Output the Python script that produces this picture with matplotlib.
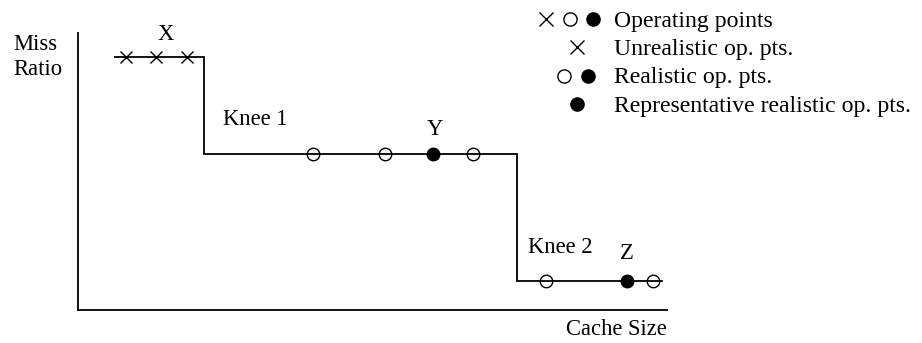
import matplotlib
matplotlib.use("Agg")
import matplotlib.pyplot as plt

# ---- data (arbitrary units: cache size, miss ratio) ----
curve_x = [37, 126, 126, 439, 439, 584]
curve_y = [253, 253, 156, 156, 29, 29]

unreal_x = [48, 78, 109]
unreal_y = [253, 253, 253]

real_open_x = [235, 307, 395, 468, 575]
real_open_y = [156, 156, 156, 29, 29]

repr_x = [355, 549]
repr_y = [156, 29]

point_labels = ["X", "Y", "Z"]
point_label_x = [88, 357, 549]
point_label_y = [270, 175, 51]

knee_labels = ["Knee 1", "Knee 2"]
knee_label_x = [145, 450]
knee_label_y = [185, 57]

legend_texts = ["Operating points", "Unrealistic op. pts.",
                "Realistic op. pts.", "Representative realistic op. pts."]

W, H = 922, 343
fig = plt.figure(figsize=(W / 100, H / 100), dpi=100)
FONT = "Liberation Serif"
FS = 16.3
LFS = 17.1

# main axes: spines at x=78px, y=310px; extent to 667px / 33px
ax = fig.add_axes([78 / W, (H - 310) / H, (667 - 78) / W, (310 - 33) / H])
ax.set_xlim(0, 589)
ax.set_ylim(0, 277)
for s in ["top", "right"]:
    ax.spines[s].set_visible(False)
for s in ["left", "bottom"]:
    ax.spines[s].set_linewidth(1.3)
    ax.spines[s].set_color("black")
ax.set_xticks([])
ax.set_yticks([])
ax.patch.set_visible(False)

ax.plot(curve_x, curve_y, color="black", lw=1.3, solid_joinstyle="miter", zorder=2)
ax.plot(unreal_x, unreal_y, ls="none", marker="x", ms=8.5, mew=1.0,
        color="black", zorder=3)
ax.plot(real_open_x, real_open_y, ls="none", marker="o", ms=9, mew=1.0,
        mfc="none", mec="black", zorder=3)
ax.plot(repr_x, repr_y, ls="none", marker="o", ms=9, mew=1.0,
        mfc="black", mec="black", zorder=3)

for t, x, y in zip(point_labels, point_label_x, point_label_y):
    ax.text(x, y, t, ha="center", va="baseline", fontsize=FS, family=FONT)
for t, x, y in zip(knee_labels, knee_label_x, knee_label_y):
    ax.text(x, y, t, ha="left", va="baseline", fontsize=FS, family=FONT)

# overlay in pixel coordinates for axis titles and legend
ov = fig.add_axes([0, 0, 1, 1])
ov.set_xlim(0, W)
ov.set_ylim(H, 0)
ov.axis("off")
ov.patch.set_visible(False)

ov.text(13, 50, "Miss", ha="left", va="baseline", fontsize=FS, family=FONT)
ov.text(13, 75, "Ratio", ha="left", va="baseline", fontsize=FS, family=FONT)
ov.text(667, 335, "Cache Size", ha="right", va="baseline", fontsize=FS, family=FONT)

row_base = [26.5, 55, 83.5, 112]
for t, yb in zip(legend_texts, row_base):
    ov.text(614, yb, t, ha="left", va="baseline", fontsize=LFS, family=FONT)

mk = dict(ls="none", ms=9.5, mew=1.0, color="black")
rc = [yb - 8 for yb in row_base]
ov.plot([546], [rc[0]], marker="x", **mk)
ov.plot([570], [rc[0]], marker="o", mfc="none", **mk)
ov.plot([593], [rc[0]], marker="o", mfc="black", **mk)
ov.plot([577], [rc[1]], marker="x", **mk)
ov.plot([564], [rc[2]], marker="o", mfc="none", **mk)
ov.plot([588], [rc[2]], marker="o", mfc="black", **mk)
ov.plot([577], [rc[3]], marker="o", mfc="black", **mk)

fig.savefig("out.png", dpi=100)
